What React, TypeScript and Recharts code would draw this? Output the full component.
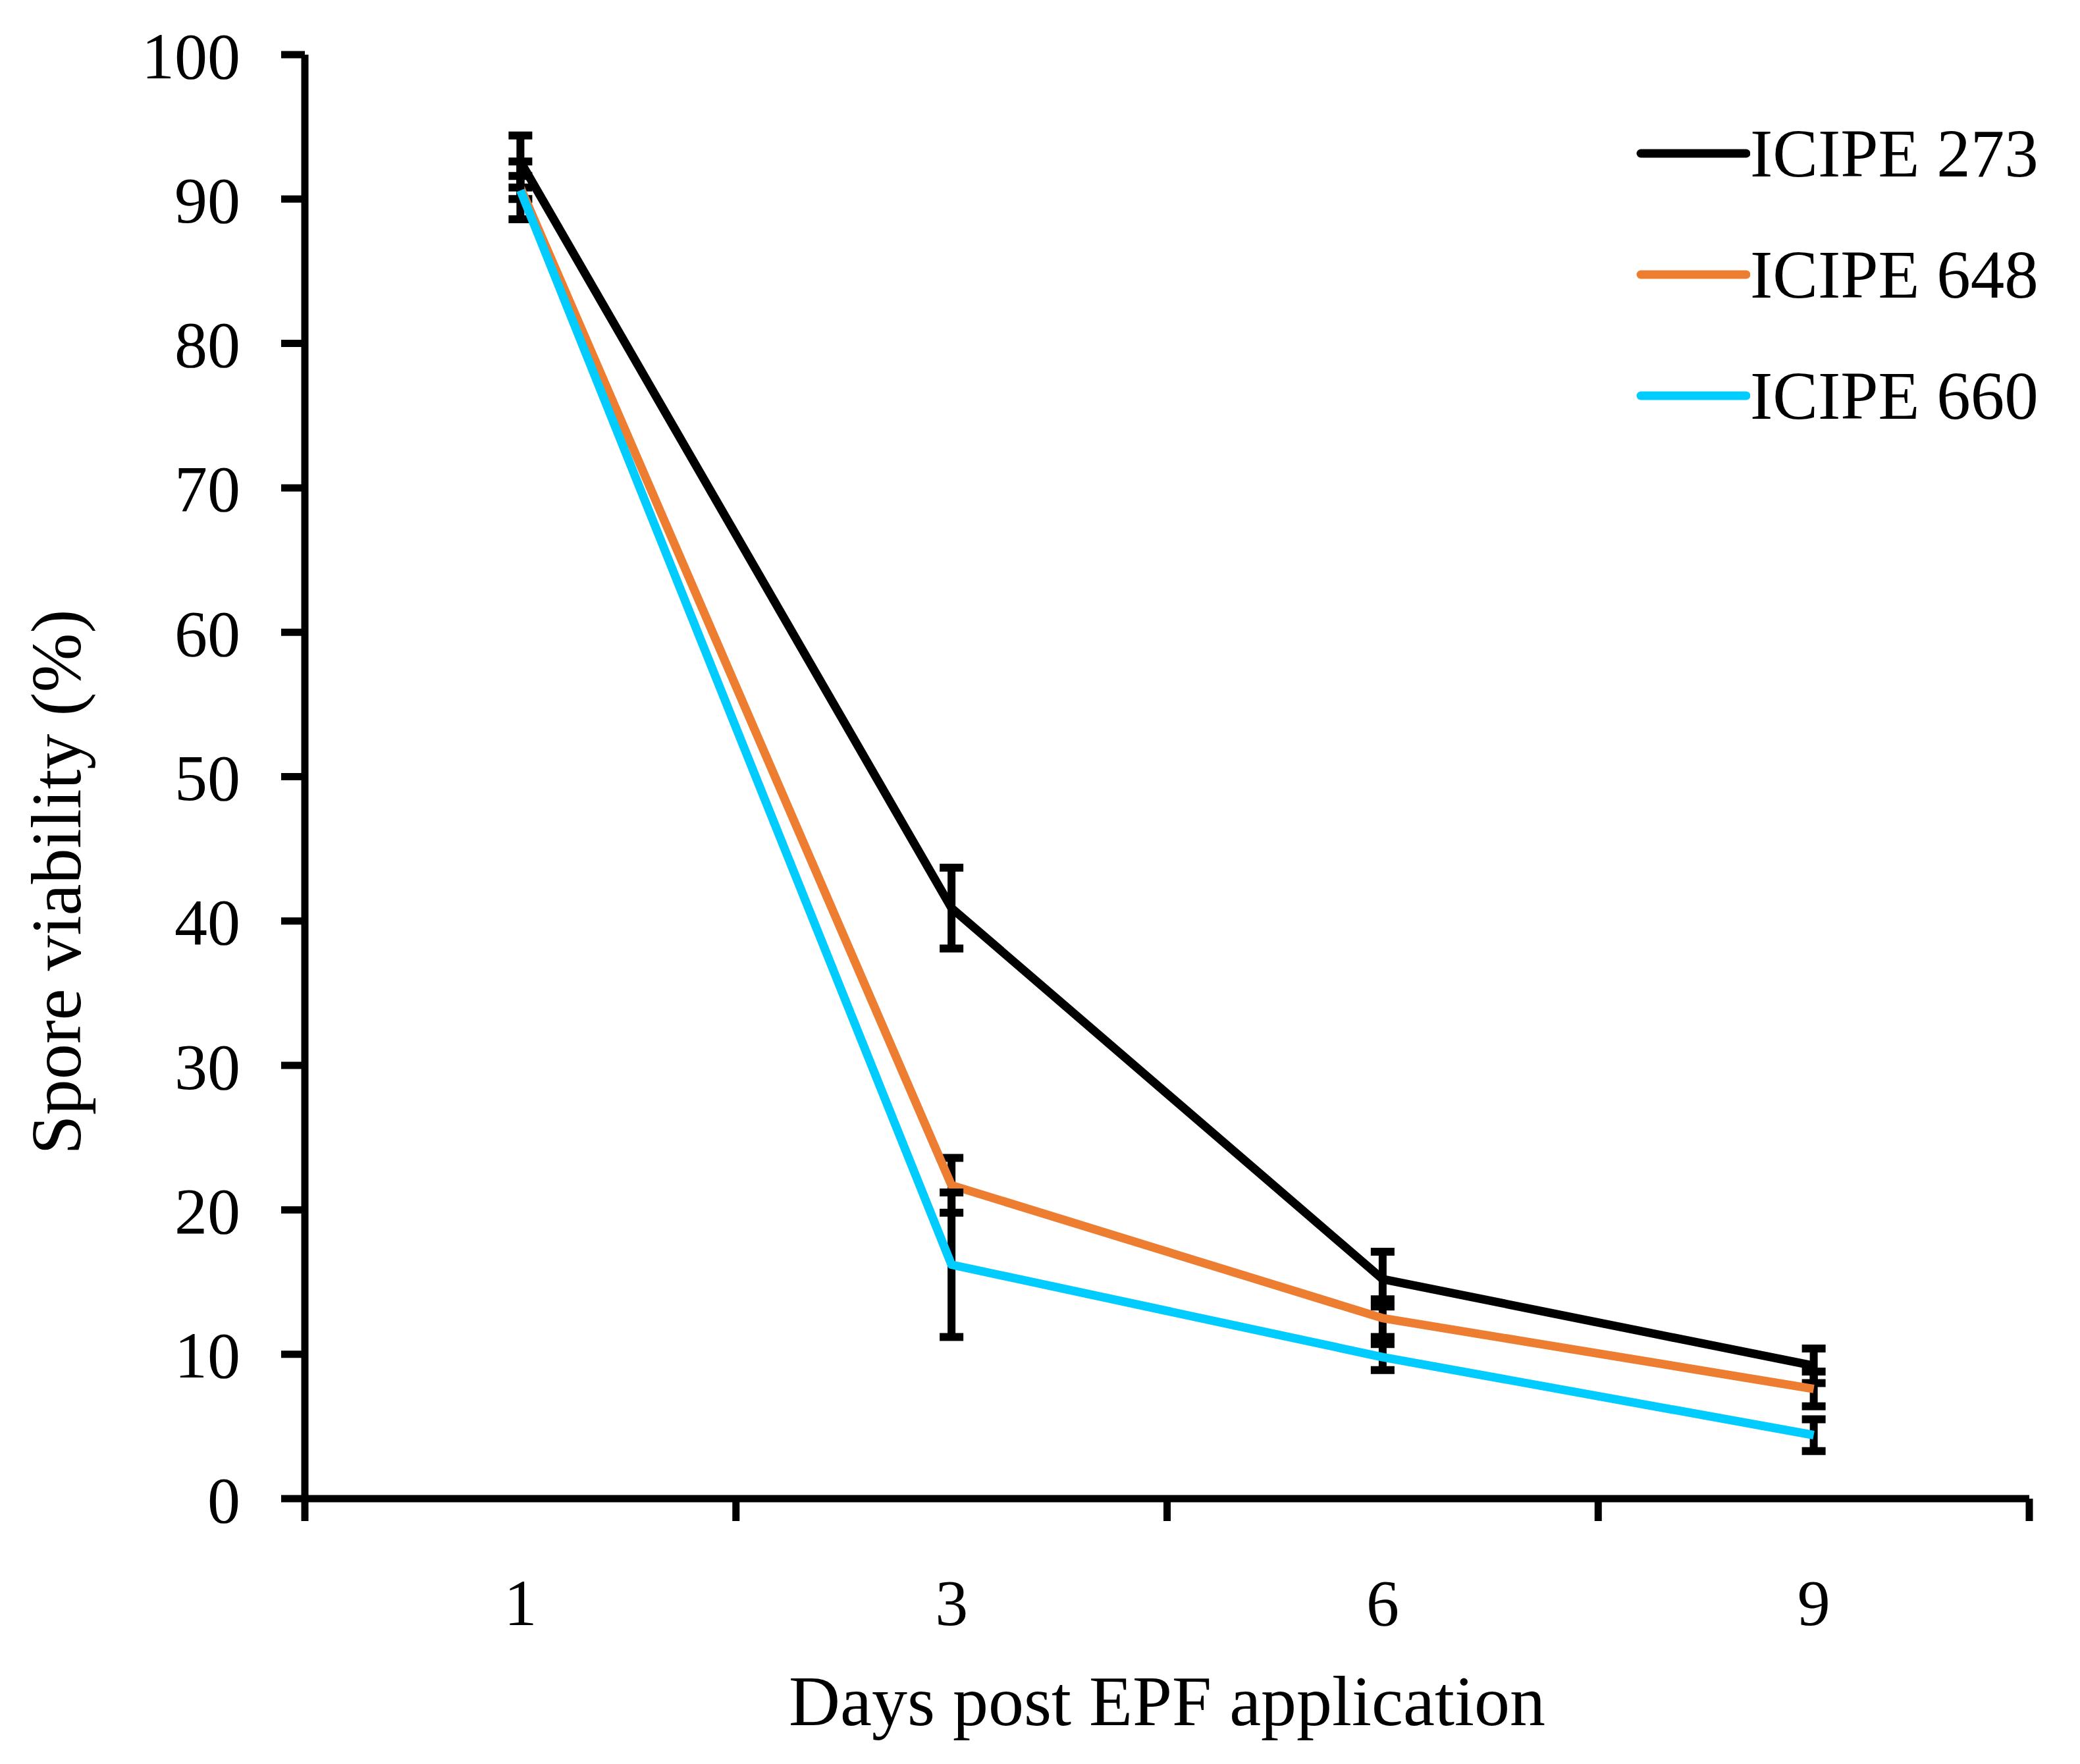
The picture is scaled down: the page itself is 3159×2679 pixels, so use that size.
import { ErrorBar, Legend, Line, LineChart, XAxis, YAxis } from 'recharts'

document.body.style.margin = '0'

const days = ['1', '3', '6', '9']
const icipe273 = [92.6, 40.9, 15.2, 9.2]
const icipe273Err = [1.8, 2.8, 1.9, 1.2]
const icipe648 = [90.8, 21.7, 12.5, 7.6]
const icipe648Err = [0.8, 1.9, 1.3, 1.2]
const icipe660 = [90.6, 16.2, 9.8, 4.4]
const icipe660Err = [2.0, 5.0, 0.9, 1.1]
const yTicks = [0, 10, 20, 30, 40, 50, 60, 70, 80, 90, 100]

const rows = days.map((day, i) => ({
  day,
  v273: icipe273[i],
  e273: icipe273Err[i],
  v648: icipe648[i],
  e648: icipe648Err[i],
  v660: icipe660[i],
  e660: icipe660Err[i],
}))

const font = '"Liberation Serif", "DejaVu Serif", serif'
const ink = '#000000'

function DayTick(props: any) {
  const { x, y, payload, index, visibleTicksCount } = props
  const half = payload?.offset ?? 0
  return (
    <g>
      <line x1={x - half} x2={x - half} y1={y} y2={y + 34} stroke={ink} strokeWidth={11} />
      {index === visibleTicksCount - 1 && (
        <line x1={x + half} x2={x + half} y1={y} y2={y + 34} stroke={ink} strokeWidth={11} />
      )}
      <text x={x} y={y + 192} textAnchor="middle" fontSize={100} fontFamily={font} fill={ink}>
        {payload.value}
      </text>
    </g>
  )
}

function XTitle(props: any) {
  const vb = props.viewBox
  return (
    <text x={vb.x + vb.width / 2} y={vb.y + 344} textAnchor="middle" fontSize={108} fontFamily={font} fill={ink}>
      Days post EPF application
    </text>
  )
}

function YTitle(props: any) {
  const vb = props.viewBox
  const cy = vb.y + vb.height / 2 + 160
  return (
    <text
      x={85}
      y={cy}
      transform={`rotate(-90, 85, ${cy})`}
      textAnchor="middle"
      dominantBaseline="central"
      fontSize={108}
      fontFamily={font}
      fill={ink}
    >
      Spore viability (%)
    </text>
  )
}

function LegendBox(props: any) {
  const items = props.payload ?? []
  return (
    <div style={{ display: 'flex', flexDirection: 'column' }}>
      {items.map((it: any) => (
        <div key={it.value} style={{ display: 'flex', alignItems: 'center', height: 184 }}>
          <svg width={178} height={24}>
            <line x1={12} x2={172} y1={12} y2={12} stroke={it.color} strokeWidth={13} strokeLinecap="round" />
          </svg>
          <span style={{ fontFamily: font, fontSize: 103, lineHeight: 1, color: ink }}>{it.value}</span>
        </div>
      ))}
    </div>
  )
}

export default function App() {
  return (
    <LineChart width={3159} height={2679} data={rows} margin={{ top: 83, right: 77, bottom: 0, left: 0 }}>
      <XAxis
        dataKey="day"
        scale="band"
        height={403}
        interval={0}
        axisLine={{ stroke: ink, strokeWidth: 11 }}
        tickLine={false}
        tickSize={0}
        tickMargin={0}
        tick={<DayTick />}
        label={{ content: XTitle }}
      />
      <YAxis
        width={463}
        domain={[0, 100]}
        ticks={yTicks}
        interval={0}
        axisLine={{ stroke: ink, strokeWidth: 11 }}
        tickLine={{ stroke: ink, strokeWidth: 11 }}
        tickSize={36}
        tickMargin={62}
        tick={{ fontSize: 100, fontFamily: font, fill: ink }}
        label={{ content: YTitle }}
      />
      <Legend
        layout="horizontal"
        verticalAlign="middle"
        align="center"
        content={<LegendBox />}
        wrapperStyle={{ top: 141, left: 2480, width: 'auto' }}
      />
      <Line name="ICIPE 273" dataKey="v273" stroke="#000000" strokeWidth={13} strokeLinejoin="round" dot={false} isAnimationActive={false}>
        <ErrorBar dataKey="e273" direction="y" width={18} stroke={ink} strokeWidth={12} />
      </Line>
      <Line name="ICIPE 648" dataKey="v648" stroke="#ED7D31" strokeWidth={13} strokeLinejoin="round" dot={false} isAnimationActive={false}>
        <ErrorBar dataKey="e648" direction="y" width={18} stroke={ink} strokeWidth={12} />
      </Line>
      <Line name="ICIPE 660" dataKey="v660" stroke="#00CCFF" strokeWidth={13} strokeLinejoin="round" dot={false} isAnimationActive={false}>
        <ErrorBar dataKey="e660" direction="y" width={18} stroke={ink} strokeWidth={12} />
      </Line>
    </LineChart>
  )
}
